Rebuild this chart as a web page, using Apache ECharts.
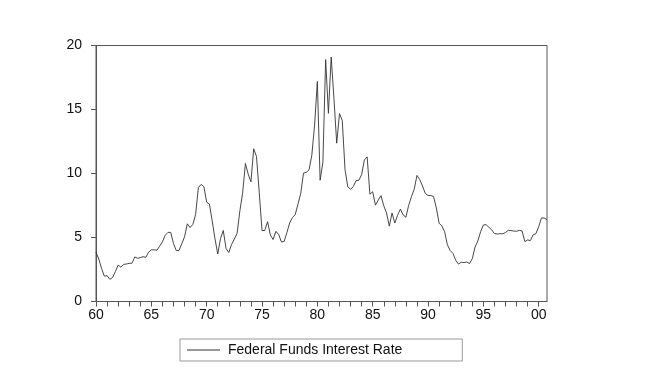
<!DOCTYPE html>
<html>
<head>
<meta charset="utf-8">
<script src="https://cdn.jsdelivr.net/npm/echarts@6/dist/echarts.min.js"></script>
<style>
html,body{margin:0;padding:0;background:#fff;}
#chart{width:650px;height:374px;}
</style>
</head>
<body>
<div id="chart"></div>
<script>
// Quarterly observations, 1960Q1 .. 2000Q4
var years = [];
for (var y = 1960; y <= 2000; y++) years.push(y);
var quarters = ['Q1', 'Q2', 'Q3', 'Q4'];

var rates = [
  3.84, 3.32, 2.60, 1.98,
  2.02, 1.73, 1.88, 2.33,
  2.85, 2.68, 2.90, 2.93,
  2.98, 2.99, 3.48, 3.38,
  3.43, 3.50, 3.45, 3.85,
  4.04, 4.04, 4.01, 4.32,
  4.65, 5.17, 5.40, 5.40,
  4.53, 3.98, 3.99, 4.51,
  5.05, 6.07, 5.78, 6.02,
  6.79, 8.90, 9.15, 8.97,
  7.76, 7.61, 6.29, 4.90,
  3.71, 4.91, 5.55, 4.14,
  3.83, 4.46, 4.87, 5.33,
  7.09, 8.49, 10.78, 9.95,
  9.35, 11.93, 11.34, 8.53,
  5.54, 5.55, 6.24, 5.20,
  4.84, 5.48, 5.25, 4.65,
  4.69, 5.39, 6.14, 6.56,
  6.79, 7.60, 8.45, 10.03,
  10.09, 10.29, 11.43, 13.78,
  17.19, 9.47, 10.87, 18.90,
  14.70, 19.10, 15.87, 12.37,
  14.68, 14.15, 10.31, 8.95,
  8.77, 8.98, 9.45, 9.47,
  9.91, 11.06, 11.30, 8.38,
  8.58, 7.53, 7.92, 8.27,
  7.48, 6.92, 5.89, 6.91,
  6.13, 6.73, 7.22, 6.77,
  6.58, 7.51, 8.19, 8.76,
  9.85, 9.53, 9.02, 8.45,
  8.28, 8.29, 8.20, 7.31,
  6.12, 5.90, 5.45, 4.43,
  3.98, 3.76, 3.22, 2.92,
  3.07, 3.04, 3.09, 2.96,
  3.34, 4.25, 4.73, 5.45,
  5.98, 6.00, 5.80, 5.60,
  5.31, 5.27, 5.30, 5.29,
  5.39, 5.56, 5.54, 5.50,
  5.49, 5.56, 5.51, 4.68,
  4.81, 4.76, 5.22, 5.30,
  5.85, 6.53, 6.52, 6.40
];

var xTickLabels = ['60', '65', '70', '75', '80', '85', '90', '95', '00'];
var yTickValues = [0, 5, 10, 15, 20];
var seriesName = 'Federal Funds Interest Rate';

var categories = [];
years.forEach(function (yr) {
  quarters.forEach(function (q) { categories.push(yr + q); });
});

var chart = echarts.init(document.getElementById('chart'), null, {renderer: 'canvas'});
var font = 'Liberation Sans, Arial, sans-serif';
chart.setOption({
  animation: false,
  backgroundColor: '#fff',
  grid: {
    left: 96, right: 103, top: 45.5, bottom: 72.5,
    show: true, borderColor: '#555', borderWidth: 1, backgroundColor: 'transparent'
  },
  legend: {
    data: [seriesName],
    left: 180, top: 339,
    icon: 'rect',
    itemWidth: 33, itemHeight: 1,
    itemGap: 8,
    padding: [3, 60, 3, 7],
    borderColor: '#999', borderWidth: 1,
    itemStyle: {color: '#333'},
    textStyle: {fontFamily: font, fontSize: 14, color: '#111', padding: [0, 0, 0, 3], lineHeight: 16}
  },
  xAxis: {
    type: 'category',
    data: categories,
    boundaryGap: false,
    axisLine: {lineStyle: {color: '#555', width: 1}},
    axisTick: {
      show: true, length: 5, inside: false,
      interval: function (i) { return i % 4 === 0; },
      lineStyle: {color: '#555'}
    },
    axisLabel: {
      interval: function (i) { return i % 20 === 0; },
      formatter: function (v, i) { return xTickLabels[i / 20]; },
      margin: 7, fontFamily: font, fontSize: 14, color: '#111'
    },
    splitLine: {show: false}
  },
  yAxis: {
    type: 'value',
    min: yTickValues[0], max: yTickValues[yTickValues.length - 1], interval: 5,
    axisLine: {show: true, lineStyle: {color: '#555', width: 1}},
    axisTick: {show: true, length: 5, lineStyle: {color: '#555'}},
    axisLabel: {margin: 14, fontFamily: font, fontSize: 14, color: '#111'},
    splitLine: {show: false}
  },
  series: [{
    name: seriesName,
    type: 'line',
    data: rates,
    symbol: 'none',
    lineStyle: {color: '#333', width: 0.9},
    itemStyle: {color: '#333'}
  }]
});
</script>
</body>
</html>
